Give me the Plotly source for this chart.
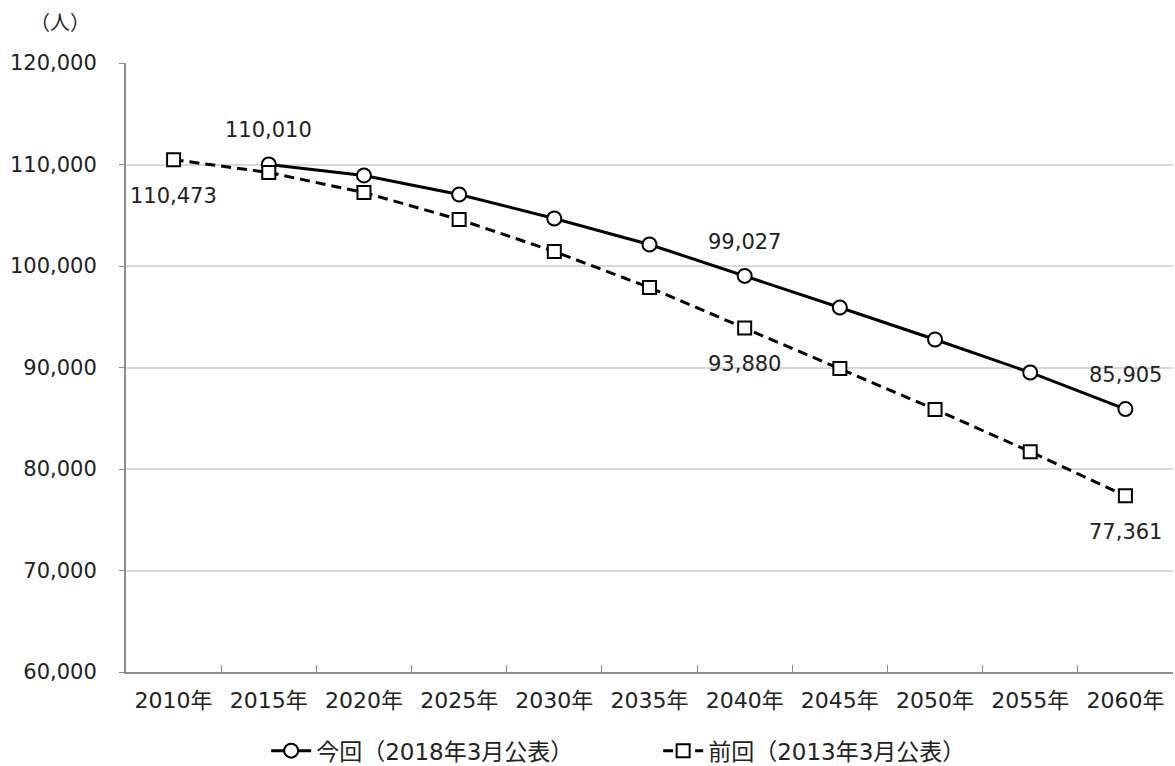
import plotly.graph_objects as go

years = ["2010年", "2015年", "2020年", "2025年", "2030年", "2035年",
         "2040年", "2045年", "2050年", "2055年", "2060年"]
current = [None, 110010, 108920, 107045, 104680, 102120, 99027, 95910, 92760, 89510, 85905]
previous = [110473, 109210, 107240, 104580, 101430, 97880, 93880, 89900, 85870, 81700, 77361]
current_name = "今回（2018年3月公表）"
previous_name = "前回（2013年3月公表）"
current_label_idx = [1, 6, 10]
previous_label_idx = [0, 6, 10]
y_ticks = [60000, 70000, 80000, 90000, 100000, 110000, 120000]

FONT = "DejaVu Sans, Noto Sans CJK JP, sans-serif"
TXT = "#222222"

fig = go.Figure()
fig.add_trace(go.Scatter(
    x=years, y=current, name=current_name, mode="lines+markers",
    line=dict(color="black", width=3),
    marker=dict(symbol="circle", size=14, color="white", line=dict(color="black", width=2)),
))
fig.add_trace(go.Scatter(
    x=years, y=previous, name=previous_name, mode="lines+markers",
    line=dict(color="black", width=3, dash="10px,6px"),
    marker=dict(symbol="square", size=13, color="white", line=dict(color="black", width=2)),
))

ann = []
for i in current_label_idx:
    ann.append(dict(x=years[i], y=current[i], text=f"{current[i]:,}", showarrow=False,
                    yshift=34, font=dict(size=21, color=TXT, family=FONT)))
for i in previous_label_idx:
    ann.append(dict(x=years[i], y=previous[i], text=f"{previous[i]:,}", showarrow=False,
                    yshift=-36, font=dict(size=21, color=TXT, family=FONT)))
ann.append(dict(xref="paper", yref="paper", x=-0.094, y=1.066, text="（人）", showarrow=False,
                xanchor="left", yanchor="middle", font=dict(size=20, color=TXT, family=FONT)))

fig.update_layout(
    width=1175, height=766,
    margin=dict(l=126, r=2, t=63, b=94),
    paper_bgcolor="white", plot_bgcolor="white",
    font=dict(family=FONT, size=21, color=TXT),
    showlegend=True,
    legend=dict(orientation="h", xref="container", x=0.2265, xanchor="left",
                yref="container", y=0.02, yanchor="middle",
                font=dict(size=23, color=TXT, family=FONT), itemwidth=40,
                entrywidth=337, traceorder="normal"),
    annotations=ann,
    xaxis=dict(type="category", range=[-0.5, 10.5], showgrid=False, automargin=False,
               showline=True, linecolor="#8c8c8c", linewidth=2,
               ticks="inside", tickson="boundaries", ticklen=7, tickcolor="#8c8c8c",
               ticklabelstandoff=8,
               tickfont=dict(size=22, color=TXT, family=FONT)),
    yaxis=dict(range=[60000, 120000], tickvals=y_ticks, tickformat=",d", automargin=False,
               showgrid=True, gridcolor="#d9d9d9", gridwidth=2,
               showline=True, linecolor="#8c8c8c", linewidth=2,
               ticks="outside", ticklen=5, tickcolor="#8c8c8c",
               ticklabelstandoff=18,
               zeroline=False,
               tickfont=dict(size=21, color=TXT, family=FONT)),
)

fig.write_html("out.html", config={"displayModeBar": False},
               post_script="document.body.style.margin='0';")
